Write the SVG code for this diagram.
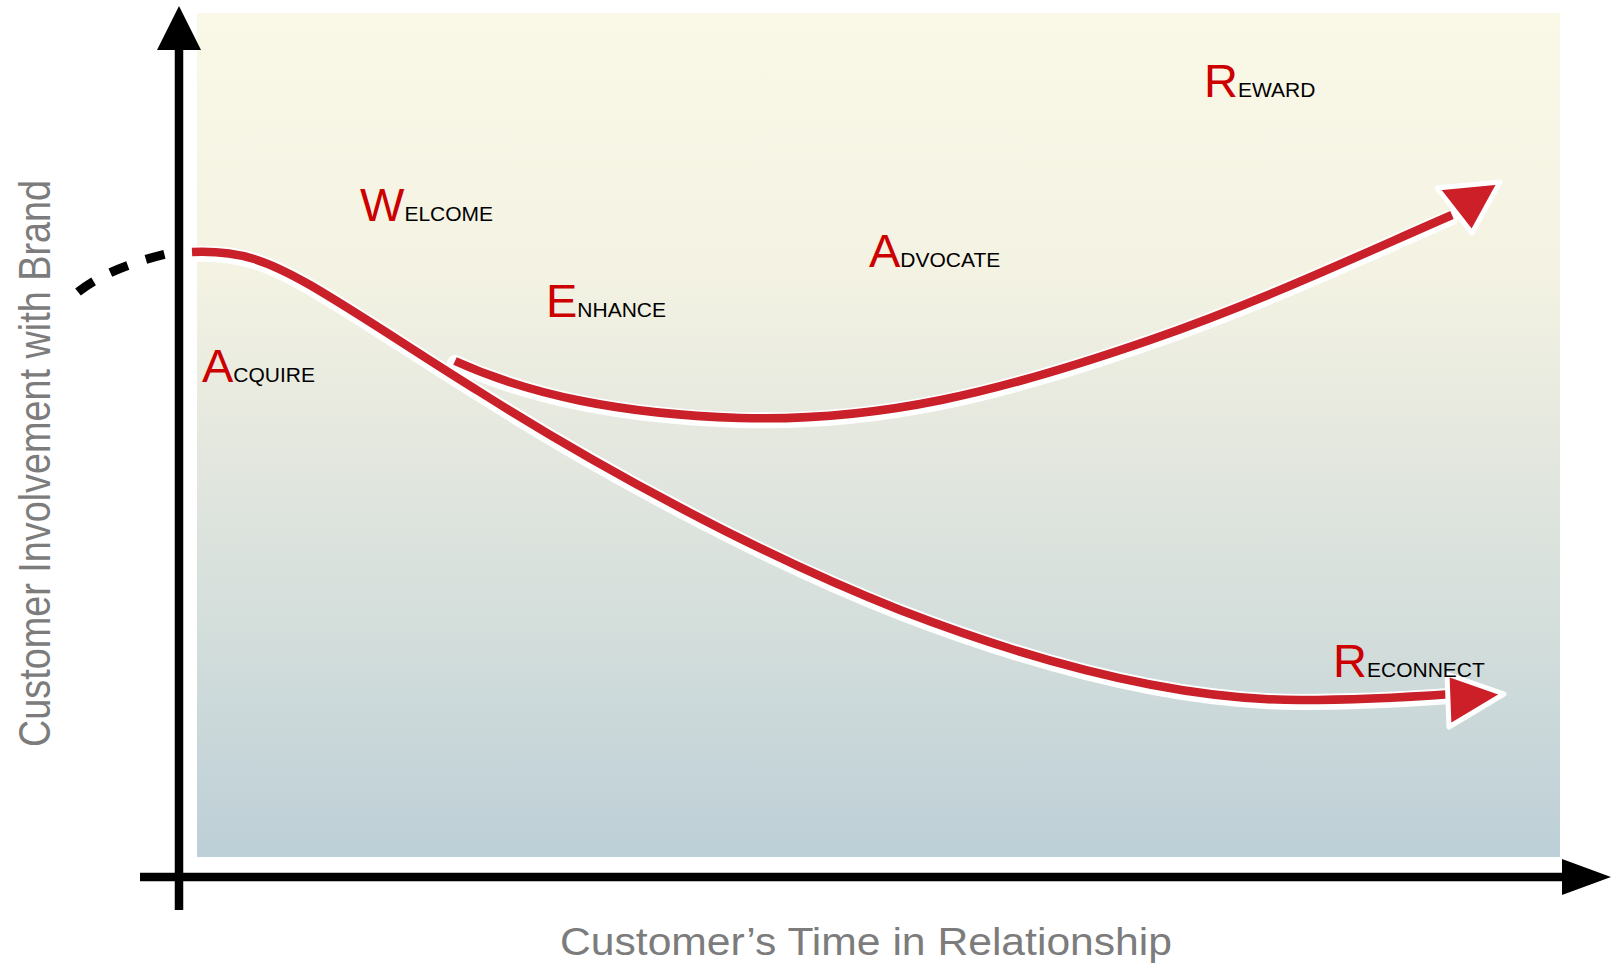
<svg xmlns="http://www.w3.org/2000/svg" width="1612" height="969" viewBox="0 0 1612 969">
<style>
.big{font-family:"Liberation Sans",Arial,sans-serif;font-size:47px;fill:#cc0000}
.sm{font-family:"Liberation Sans",Arial,sans-serif;font-size:21px;fill:#000}
.axlab{font-family:"Liberation Sans",Arial,sans-serif;fill:#7c7c7c}
.halo{fill:none;stroke:#ffffff;stroke-width:16;stroke-linecap:round}
.red{fill:none;stroke:#c9202a;stroke-width:8.5;stroke-linecap:butt}
.head{fill:#cc1f28;stroke:#ffffff;stroke-width:5;stroke-linejoin:round}
.axis{stroke:#000;stroke-width:8.5;fill:none}
</style>
<defs>
<linearGradient id="bg" x1="0" y1="0" x2="0" y2="1">
<stop offset="0" stop-color="#faf8e7"/>
<stop offset="0.3" stop-color="#f4f3e3"/>
<stop offset="0.5" stop-color="#e5e8df"/>
<stop offset="0.75" stop-color="#d2dddb"/>
<stop offset="1" stop-color="#bdcfd7"/>
</linearGradient>
</defs>
<rect x="0" y="0" width="1612" height="969" fill="#ffffff"/>
<rect id="panel" x="197" y="13" width="1363" height="844" fill="url(#bg)"/>

<g id="axes">
<line class="axis" x1="179" y1="45" x2="179" y2="910"/>
<polygon points="179,6 157,50 201,50" fill="#000"/>
<line class="axis" x1="140" y1="877" x2="1566" y2="877"/>
<polygon points="1611,877 1562,859 1562,895" fill="#000"/>
</g>

<g id="connectors">
<path d="M 78 292 Q 108 268 166 254" fill="none" stroke="#000" stroke-width="9" stroke-dasharray="19 19"/>
<g transform="translate(0,2)">
<path class="halo" d="M 192 252 C 240 250, 268 261, 310 285 C 360 314, 420 355, 480 392 C 600 468, 760 555, 900 610 C 1040 664, 1180 700, 1300 700 C 1360 700, 1410 697, 1450 694"/>
<path class="halo" d="M 455 361 C 530 395, 620 414, 740 418 C 880 422, 1000 392, 1150 340 C 1260 302, 1360 255, 1450 216"/>
</g>
<path class="red" d="M 192 252 C 240 250, 268 261, 310 285 C 360 314, 420 355, 480 392 C 600 468, 760 555, 900 610 C 1040 664, 1180 700, 1300 700 C 1360 700, 1410 697, 1452 694"/>
<path class="red" d="M 455 361 C 530 395, 620 414, 740 418 C 880 422, 1000 392, 1150 340 C 1260 302, 1360 255, 1452 215"/>
<polygon class="head" points="1437,188 1500,182 1472,233"/>
<polygon class="head" points="1447,674 1504,694 1449,727"/>
</g>

<g id="acquire"><text x="202" y="382"><tspan class="big">A</tspan><tspan class="sm">CQUIRE</tspan></text></g>
<g id="welcome"><text x="360" y="221"><tspan class="big">W</tspan><tspan class="sm">ELCOME</tspan></text></g>
<g id="enhance"><text x="546" y="317"><tspan class="big">E</tspan><tspan class="sm">NHANCE</tspan></text></g>
<g id="advocate"><text x="869" y="267"><tspan class="big">A</tspan><tspan class="sm">DVOCATE</tspan></text></g>
<g id="reward"><text x="1204" y="97"><tspan class="big">R</tspan><tspan class="sm">EWARD</tspan></text></g>
<g id="reconnect"><text x="1333" y="677"><tspan class="big">R</tspan><tspan class="sm">ECONNECT</tspan></text></g>

<g id="ylabel"><text class="axlab" transform="translate(50,747) rotate(-90)" x="0" y="0" font-size="44" textLength="567" lengthAdjust="spacingAndGlyphs">Customer Involvement with Brand</text></g>
<g id="xlabel"><text class="axlab" x="560" y="955" font-size="38" textLength="612" lengthAdjust="spacingAndGlyphs">Customer’s Time in Relationship</text></g>
</svg>
